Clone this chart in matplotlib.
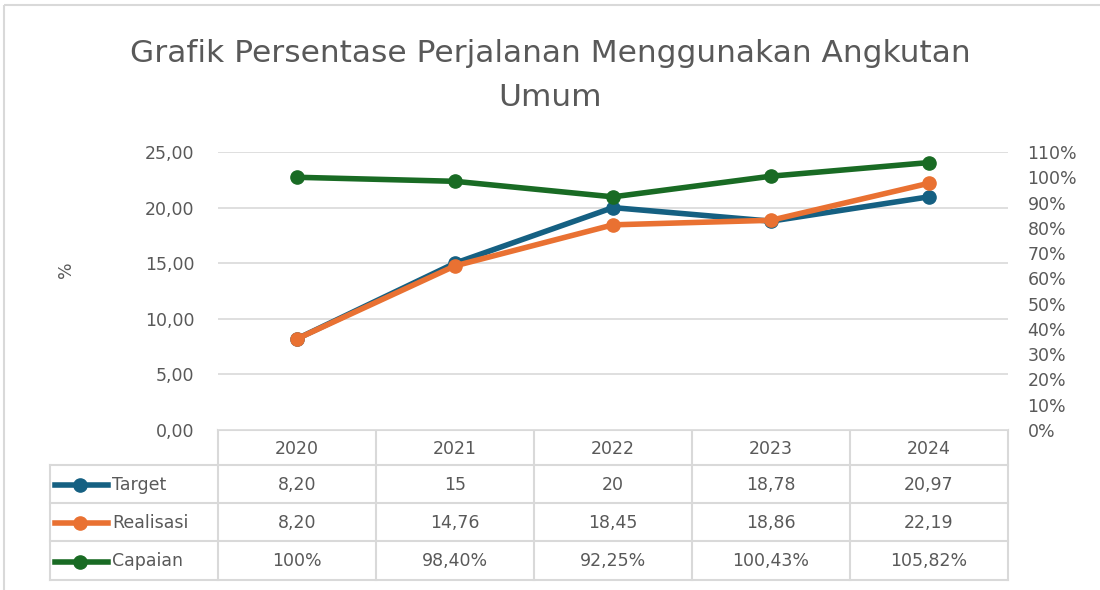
import matplotlib
matplotlib.use("Agg")
import matplotlib.pyplot as plt
from matplotlib.ticker import FuncFormatter
from matplotlib.lines import Line2D
from matplotlib.patches import Rectangle

years = ["2020", "2021", "2022", "2023", "2024"]
target = [8.20, 15, 20, 18.78, 20.97]
realisasi = [8.20, 14.76, 18.45, 18.86, 22.19]
capaian = [100, 98.40, 92.25, 100.43, 105.82]
target_txt = ["8,20", "15", "20", "18,78", "20,97"]
realisasi_txt = ["8,20", "14,76", "18,45", "18,86", "22,19"]
capaian_txt = ["100%", "98,40%", "92,25%", "100,43%", "105,82%"]
series_names = ["Target", "Realisasi", "Capaian"]
left_ticks = [0, 5, 10, 15, 20, 25]
right_ticks = list(range(0, 111, 10))

c_target = "#156082"
c_real = "#E97132"
c_cap = "#196B24"
txt = "#595959"
grid = "#D9D9D9"

plt.rcParams['font.family'] = ['DejaVu Sans']
FS = 12.5

W, H = 1100, 590
fig = plt.figure(figsize=(W/100, H/100), dpi=100)

def fx(px):
    return px / W
def fy(py):
    return 1 - py / H

# overlay axes in pixel coordinates for border/table
ov = fig.add_axes([0, 0, 1, 1])
ov.set_xlim(0, W)
ov.set_ylim(H, 0)
ov.axis("off")
ov.add_patch(Rectangle((4, 5), W + 10, H + 10, fill=False, ec="#D9D9D9", lw=1.5))

x0, x1, ytop, ybot = 218, 1008, 152, 430
ax = fig.add_axes([fx(x0), fy(ybot), fx(x1 - x0), (ybot - ytop) / H])
n = len(years)
xs = list(range(n))
ax.set_xlim(-0.5, n - 0.5)
ax.set_ylim(0, 25)
ax.set_yticks(left_ticks)
ax.yaxis.set_major_formatter(FuncFormatter(lambda v, p: f"{v:.2f}".replace(".", ",")))
ax.grid(axis="y", color=grid, lw=1.2)
ax.set_axisbelow(True)
for s in ax.spines.values():
    s.set_visible(False)
ax.tick_params(axis="y", length=0, labelsize=FS, labelcolor=txt, pad=17)
ax.set_xticks([])
ax.set_ylabel("%", fontsize=FS, color=txt)
ax.yaxis.set_label_coords((75 - x0) / (x1 - x0), (ybot - 270) / (ybot - ytop))

ax.plot(xs, target, color=c_target, lw=4, marker="o", ms=9.5, zorder=3)
ax.plot(xs, realisasi, color=c_real, lw=4, marker="o", ms=9.5, zorder=4)

ax2 = ax.twinx()
ax2.set_ylim(0, 110)
ax2.set_yticks(right_ticks)
ax2.yaxis.set_major_formatter(FuncFormatter(lambda v, p: f"{v:.0f}%"))
for s in ax2.spines.values():
    s.set_visible(False)
ax2.tick_params(axis="y", length=0, labelsize=FS, labelcolor=txt, pad=14)
ax2.plot(xs, capaian, color=c_cap, lw=4, marker="o", ms=9.5, zorder=5)
ax2.set_zorder(ax.get_zorder() + 1)
ax2.patch.set_visible(False)

# title
fig.text(0.5, fy(53), "Grafik Persentase Perjalanan Menggunakan Angkutan", ha="center", va="center",
         fontsize=22.5, color=txt)
fig.text(0.5, fy(98), "Umum", ha="center", va="center",
         fontsize=22.5, color=txt)

# data table
cw = (x1 - x0) / n
rows_y = [430, 465, 503, 541, 580]
lab_x = 50
lw_t = 1.5
ov.plot([x0, x1], [rows_y[0], rows_y[0]], color=grid, lw=lw_t)
for yy in rows_y[1:]:
    ov.plot([lab_x, x1], [yy, yy], color=grid, lw=lw_t)
ov.plot([lab_x, lab_x], [rows_y[1], rows_y[-1]], color=grid, lw=lw_t)
for i in range(n + 1):
    ov.plot([x0 + i * cw] * 2, [rows_y[0], rows_y[-1]], color=grid, lw=lw_t)

for i, yr in enumerate(years):
    ov.text(x0 + (i + 0.5) * cw, (rows_y[0] + rows_y[1]) / 2 + 1, yr, ha="center", va="center",
            fontsize=FS, color=txt)
table_rows = [target_txt, realisasi_txt, capaian_txt]
colors = [c_target, c_real, c_cap]
for r, (name, vals, col) in enumerate(zip(series_names, table_rows, colors)):
    yc = (rows_y[r + 1] + rows_y[r + 2]) / 2 + 1
    ov.add_line(Line2D([55, 108], [yc, yc], color=col, lw=4))
    ov.add_line(Line2D([80], [yc], color=col, marker="o", ms=9.5))
    ov.text(112, yc, name, ha="left", va="center", fontsize=FS, color=txt)
    for i, v in enumerate(vals):
        ov.text(x0 + (i + 0.5) * cw, yc, v, ha="center", va="center", fontsize=FS, color=txt)

fig.savefig("out.png", dpi=100)
